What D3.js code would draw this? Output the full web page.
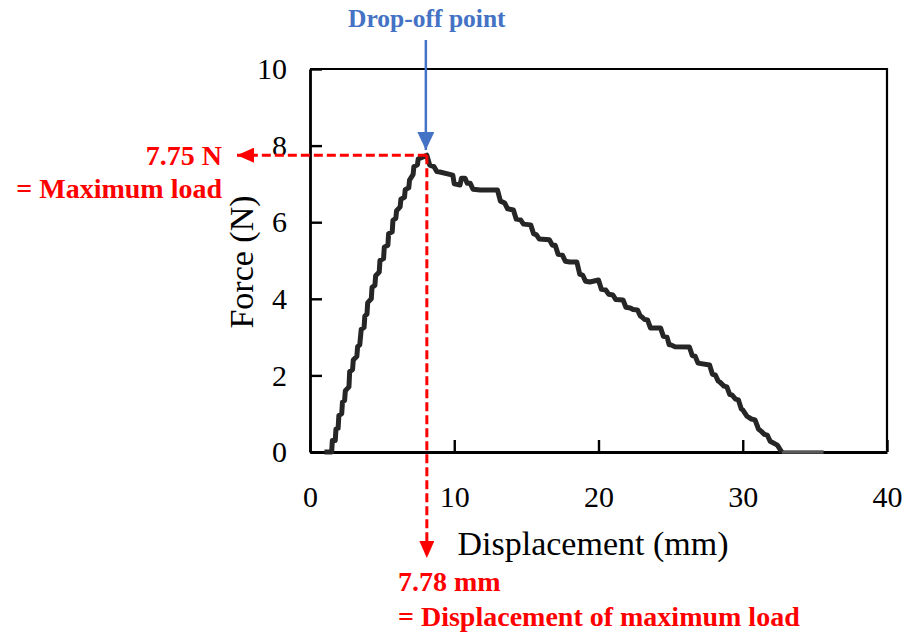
<!DOCTYPE html>
<html>
<head>
<meta charset="utf-8">
<script src="https://cdn.jsdelivr.net/npm/d3@7"></script>
<style>
  body { margin: 0; background: #fff; }
  svg { display: block; }
  text { font-family: "Liberation Serif", "Times New Roman", serif; }
</style>
</head>
<body>
<div id="vis"></div>
<script>
// force-displacement curve (mm, N)
const risePoints = [
  [1.0, 0], [1.5, 0], [1.55, 0.3], [1.75, 0.3], [1.8, 0.6], [1.95, 0.62], [2.0, 0.95],
  [2.2, 1.0], [2.25, 1.3], [2.4, 1.35], [2.45, 1.6], [2.7, 1.7], [2.75, 2.1], [2.95, 2.15],
  [3.0, 2.4], [3.25, 2.5], [3.3, 2.75], [3.45, 2.8], [3.55, 3.2], [3.75, 3.25], [3.8, 3.55],
  [3.95, 3.6], [4.0, 3.9], [4.25, 4.0], [4.3, 4.3], [4.5, 4.35], [4.55, 4.6], [4.8, 4.7],
  [4.85, 5.0], [5.1, 5.05], [5.15, 5.35], [5.4, 5.4], [5.45, 5.7], [5.7, 5.75], [5.75, 6.05],
  [5.95, 6.1], [6.0, 6.3], [6.25, 6.4], [6.3, 6.6], [6.55, 6.65], [6.6, 6.85], [6.85, 6.9],
  [6.9, 7.1], [7.15, 7.25], [7.2, 7.45], [7.45, 7.5], [7.5, 7.65], [7.8, 7.7], [8.1, 7.75]
]
const dropPoints = [
  [8.1, 7.75], [8.3, 7.49], [8.6, 7.45], [8.8, 7.32], [9.0, 7.31], [9.9, 7.23], [10.0, 7.0],
  [10.4, 6.97], [10.5, 7.15], [10.75, 7.15], [10.9, 7.02], [11.1, 7.02], [11.3, 6.86],
  [11.8, 6.84], [13.0, 6.84], [13.2, 6.55], [13.5, 6.5], [13.7, 6.35], [14.1, 6.32],
  [14.3, 6.08], [14.6, 6.06], [14.8, 5.95], [15.3, 5.93], [15.5, 5.7], [15.7, 5.67],
  [15.9, 5.56], [16.6, 5.54], [16.8, 5.4], [17.0, 5.4], [17.2, 5.16], [17.5, 5.14],
  [17.7, 4.98], [18.0, 4.96], [18.5, 4.96], [18.7, 4.64], [18.9, 4.62], [19.1, 4.46],
  [19.4, 4.44], [20.0, 4.49], [20.2, 4.25], [20.5, 4.23], [20.7, 4.12], [21.0, 4.1],
  [21.2, 3.98], [21.7, 3.97], [21.9, 3.78], [22.2, 3.76], [22.4, 3.72], [22.7, 3.71],
  [22.9, 3.55], [23.0, 3.53], [23.2, 3.46], [23.4, 3.45], [23.6, 3.24], [24.3, 3.24],
  [24.5, 3.02], [24.75, 3.0], [24.9, 2.8], [25.0, 2.8], [25.3, 2.75], [26.3, 2.74],
  [26.5, 2.52], [26.7, 2.5], [26.9, 2.32], [27.7, 2.27], [27.9, 2.03], [28.1, 2.01],
  [28.3, 1.85], [28.4, 1.83], [28.7, 1.72], [28.9, 1.7], [29.1, 1.5], [29.25, 1.49],
  [29.5, 1.38], [29.7, 1.36], [29.9, 1.12], [30.0, 1.1], [30.3, 0.93], [30.4, 0.91],
  [30.6, 0.86], [30.85, 0.84], [31.1, 0.59], [31.2, 0.57], [31.5, 0.46], [31.7, 0.44],
  [31.9, 0.28], [32.0, 0.26], [32.4, 0.18], [32.7, 0]
]
const tailPoints = [[32.7, 0], [35.6, 0]]

const xTicks = [0, 10, 20, 30, 40]
const yTicks = [0, 2, 4, 6, 8, 10]

// drop-off point as marked in the figure
const peak = [8.1, 7.75]
const peakLoadLabel = ['7.75 N', '= Maximum load']
const peakDispLabel = ['7.78 mm', '= Displacement of maximum load']

const width = 910,
  height = 634

const svg = d3
  .select('#vis')
  .append('svg')
  .attr('width', width)
  .attr('height', height)

const x = d3.scaleLinear().domain([0, 40]).range([310, 887])
const y = d3.scaleLinear().domain([0, 10]).range([452, 69])

const red = '#ff0000',
  blue = '#4472c4'

const defs = svg.append('defs')
function arrowHead(id, color, w, l) {
  defs
    .append('marker')
    .attr('id', id)
    .attr('viewBox', `0 ${-w} ${l} ${2 * w}`)
    .attr('refX', l)
    .attr('refY', 0)
    .attr('markerUnits', 'userSpaceOnUse')
    .attr('markerWidth', l)
    .attr('markerHeight', 2 * w)
    .attr('orient', 'auto')
    .append('path')
    .attr('d', `M0,${-w}L${l},0L0,${w}Z`)
    .attr('fill', color)
}
arrowHead('redHead', red, 7.5, 17)
arrowHead('blueHead', blue, 8.5, 18)

// frame
svg
  .append('path')
  .attr('d', `M${x(0)},${y(10)}H${x(40)}V${y(0)}`)
  .attr('fill', 'none')
  .attr('stroke', '#000')
  .attr('stroke-width', 2.2)

// axes, ticks point inward
const xAxis = svg
  .append('g')
  .attr('transform', `translate(0,${y(0)})`)
  .call(d3.axisBottom(x).tickValues(xTicks).tickSizeInner(-12).tickSizeOuter(0).tickPadding(34))
const yAxis = svg
  .append('g')
  .attr('transform', `translate(${x(0)},0)`)
  .call(d3.axisLeft(y).tickValues(yTicks).tickSizeInner(-12).tickSizeOuter(0).tickPadding(23))

for (const g of [xAxis, yAxis]) {
  g.selectAll('.domain').attr('stroke', '#000').attr('stroke-width', 2.8)
  g.selectAll('.tick line').attr('stroke', '#000').attr('stroke-width', 2.4)
  g.selectAll('.tick text')
    .attr('fill', '#000')
    .style('font-size', '30px')
    .style('font-family', '"Liberation Serif", "Times New Roman", serif')
}

// axis titles
svg
  .append('text')
  .attr('x', 593)
  .attr('y', 555)
  .attr('text-anchor', 'middle')
  .style('font-size', '34px')
  .text('Displacement (mm)')

svg
  .append('text')
  .attr('transform', 'translate(253,262) rotate(-90)')
  .attr('text-anchor', 'middle')
  .style('font-size', '34px')
  .text('Force (N)')

// curve
const line = d3
  .line()
  .x((d) => x(d[0]))
  .y((d) => y(d[1]))

svg
  .append('path')
  .datum(tailPoints)
  .attr('d', line)
  .attr('fill', 'none')
  .attr('stroke', '#595959')
  .attr('stroke-width', 3.5)

svg
  .append('path')
  .datum(risePoints.concat(dropPoints.slice(1)))
  .attr('d', line)
  .attr('fill', 'none')
  .attr('stroke', '#262626')
  .attr('stroke-width', 5)
  .attr('stroke-linejoin', 'round')

// red dashed guides to the maximum load
svg
  .append('line')
  .attr('x1', x(peak[0]))
  .attr('y1', y(peak[1]))
  .attr('x2', 237)
  .attr('y2', y(peak[1]))
  .attr('stroke', red)
  .attr('stroke-width', 3)
  .attr('stroke-dasharray', '9,4')
  .attr('marker-end', 'url(#redHead)')

svg
  .append('line')
  .attr('x1', x(peak[0]))
  .attr('y1', y(peak[1]))
  .attr('x2', x(peak[0]))
  .attr('y2', 558)
  .attr('stroke', red)
  .attr('stroke-width', 3)
  .attr('stroke-dasharray', '9,4')
  .attr('marker-end', 'url(#redHead)')

svg
  .append('g')
  .selectAll('text')
  .data(peakLoadLabel)
  .join('text')
  .attr('x', 222)
  .attr('y', (d, i) => 165 + i * 33)
  .attr('text-anchor', 'end')
  .attr('fill', red)
  .style('font-weight', 'bold')
  .style('font-size', '28px')
  .text((d) => d)

svg
  .append('g')
  .selectAll('text')
  .data(peakDispLabel)
  .join('text')
  .attr('x', 398)
  .attr('y', (d, i) => 591 + i * 35)
  .attr('fill', red)
  .style('font-weight', 'bold')
  .style('font-size', '28px')
  .text((d) => d)

// drop-off marker
svg
  .append('line')
  .attr('x1', x(peak[0]) - 1)
  .attr('y1', 40)
  .attr('x2', x(peak[0]) - 1)
  .attr('y2', 150)
  .attr('stroke', blue)
  .attr('stroke-width', 2.5)
  .attr('marker-end', 'url(#blueHead)')

svg
  .append('text')
  .attr('x', x(peak[0]))
  .attr('y', 27)
  .attr('text-anchor', 'middle')
  .attr('fill', blue)
  .style('font-weight', 'bold')
  .style('font-size', '25.5px')
  .text('Drop-off point')
</script>
</body>
</html>
